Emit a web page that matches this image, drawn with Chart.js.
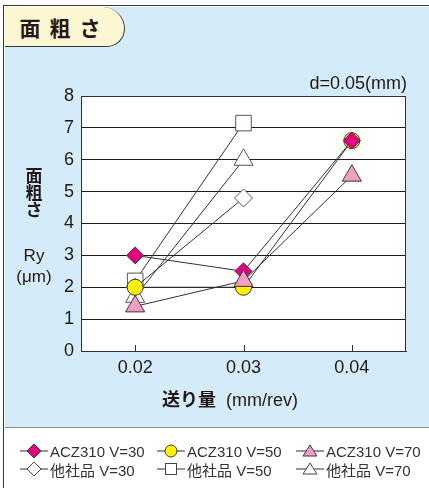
<!DOCTYPE html>
<html lang="ja">

<head>
    <meta charset="UTF-8">
    <title>面粗さ</title>
    <style>
        html,
        body {
            margin: 0;
            padding: 0;
        }

        body {
            width: 429px;
            height: 488px;
            position: relative;
            overflow: hidden;
            background: #fff;
            font-family: "Liberation Sans", "Noto Sans CJK JP", sans-serif;
            color: #231815;
        }

        #frame {
            position: absolute;
            left: 3px;
            top: 5px;
            width: 440px;
            height: 500px;
            border-left: 1.5px solid #3a3a3a;
            border-top: 1.5px solid #3a3a3a;
        }

        #panel {
            position: absolute;
            left: 4.5px;
            top: 6.5px;
            width: 430px;
            height: 420px;
            background: #d4ecf9;
            border-bottom: 1.5px solid #8a8a8a;
        }

        #tab {
            position: absolute;
            left: 4.5px;
            top: 6.5px;
            width: 120px;
            height: 40px;
            background: #fdf6d3;
            border-right: 1.5px solid #3a3a3a;
            border-bottom: 1.5px solid #3a3a3a;
            border-radius: 0 24px 20px 0;
            font-family: "Noto Sans CJK JP", sans-serif;
            font-weight: bold;
            font-size: 21px;
            line-height: 41px;
            letter-spacing: 9px;
            padding-left: 15px;
            box-sizing: border-box;
        }

        #chart-box {
            position: absolute;
            left: 0;
            top: 0;
            width: 429px;
            height: 427px;
        }

        .txt {
            position: absolute;
            white-space: nowrap;
        }

        .jp {
            font-family: "Noto Sans CJK JP", sans-serif;
            font-weight: bold;
        }

        #legend {
            position: absolute;
            left: 0;
            top: 442px;
            width: 429px;
        }

        .item {
            position: absolute;
            display: flex;
            align-items: center;
            font-size: 15px;
            height: 18px;
            color: #333;
        }

        .item svg {
            margin-right: 2px;
        }
    </style>
    <script src="https://cdn.jsdelivr.net/npm/chart.js"></script>
</head>

<body>

    <div id="frame"></div>
    <div id="panel"></div>
    <div id="tab">面粗さ</div>

    <div id="chart-box"><canvas id="roughChart"></canvas></div>

    <div class="txt" style="right:22px; top:73px; font-size:18px;">d=0.05(mm)</div>

    <div class="txt jp" style="left:23px; top:166px; width:22px; font-size:17px; line-height:17px; text-align:center;">面<br>粗<br>さ</div>
    <div class="txt" style="left:13px; top:246px; width:42px; font-size:17px; text-align:center;">Ry</div>
    <div class="txt" style="left:13px; top:267px; width:42px; font-size:17px; text-align:center;">(μm)</div>

    <div class="txt" style="left:162px; top:385px; font-size:18px;"><span class="jp" style="font-size:18px;">送り量</span>&nbsp;&nbsp;(mm/rev)</div>

    <div id="legend"></div>

    <script>
        // feed (mm/rev)
        const feedLabels = ['0.02', '0.03', '0.04'];
        const yTicks = [0, 1, 2, 3, 4, 5, 6, 7, 8];

        // Ry (um)
        const acz30 = [3.0, 2.5, 6.6];
        const acz50 = [2.0, 2.0, 6.6];
        const acz70 = [1.4, 2.2, 5.5];
        const other30 = [2.0, 4.8, null];
        const other50 = [2.2, 7.15, null];
        const other70 = [1.7, 6.0, null];

        const seriesNames = ['ACZ310 V=30', 'ACZ310 V=50', 'ACZ310 V=70', '他社品 V=30', '他社品 V=50', '他社品 V=70'];

        const MAGENTA = '#e4007f';
        const YELLOW = '#fff100';
        const PINK = '#f19ec2';
        const EDGE = '#3a3a3a';

        const series = [
            { name: seriesNames[0], data: acz30, style: 'rectRot', fill: MAGENTA, r: 8.5 },
            { name: seriesNames[1], data: acz50, style: 'circle', fill: YELLOW, r: 8 },
            { name: seriesNames[2], data: acz70, style: 'triangle', fill: PINK, r: 11 },
            { name: seriesNames[3], data: other30, style: 'rectRot', fill: '#fff', r: 9 },
            { name: seriesNames[4], data: other50, style: 'rect', fill: '#fff', r: 11 },
            { name: seriesNames[5], data: other70, style: 'triangle', fill: '#fff', r: 11 }
        ];

        // first dataset is painted on top, so list them top-most first
        const drawOrder = [2, 0, 1, 3, 4, 5];

        const datasets = drawOrder.map(i => {
            const s = series[i];
            return {
                label: s.name,
                data: s.data,
                borderColor: '#333',
                borderWidth: 1,
                fill: false,
                tension: 0,
                pointStyle: s.style,
                pointRadius: s.r,
                pointBackgroundColor: s.fill,
                pointBorderColor: s.fill === '#fff' ? '#555' : EDGE,
                pointBorderWidth: 1
            };
        });

        const plotFrame = {
            id: 'plotFrame',
            beforeDraw(chart) {
                const { ctx, chartArea: a } = chart;
                ctx.save();
                ctx.fillStyle = '#fff';
                ctx.fillRect(a.left, a.top, a.right - a.left, a.bottom - a.top);
                ctx.restore();
            },
            beforeDatasetsDraw(chart) {
                const { ctx, chartArea: a, scales } = chart;
                ctx.save();
                ctx.strokeStyle = '#333';
                ctx.lineWidth = 1;
                ctx.beginPath();
                ctx.moveTo(a.left, a.top + 0.5);
                ctx.lineTo(a.right - 0.5, a.top + 0.5);
                ctx.lineTo(a.right - 0.5, a.bottom);
                // small inner ticks on the feed axis
                feedLabels.forEach((l, i) => {
                    const x = Math.round(scales.x.getPixelForTick(i)) + 0.5;
                    ctx.moveTo(x, a.bottom);
                    ctx.lineTo(x, a.bottom - 6);
                });
                ctx.stroke();
                ctx.restore();
            }
        };

        const ctx = document.getElementById('roughChart').getContext('2d');
        const roughChart = new Chart(ctx, {
            type: 'line',
            data: {
                labels: feedLabels,
                datasets: datasets
            },
            options: {
                responsive: true,
                maintainAspectRatio: false,
                animation: false,
                layout: {
                    padding: { top: 96, right: 23, bottom: 46, left: 0 }
                },
                plugins: {
                    legend: { display: false },
                    tooltip: { enabled: false }
                },
                scales: {
                    x: {
                        type: 'category',
                        offset: true,
                        grid: { display: false, drawTicks: false },
                        border: { display: true, color: '#333', width: 1 },
                        ticks: {
                            color: '#231815',
                            padding: 6,
                            font: { family: '"Liberation Sans", sans-serif', size: 18 }
                        },
                        afterFit: s => { s.height = 30; }
                    },
                    y: {
                        min: 0,
                        max: 8,
                        afterBuildTicks: s => { s.ticks = yTicks.map(v => ({ value: v })); },
                        grid: { color: '#231815', lineWidth: 1, drawTicks: false },
                        border: { display: true, color: '#333', width: 1 },
                        ticks: {
                            color: '#231815',
                            padding: 7,
                            font: { family: '"Liberation Sans", sans-serif', size: 18 }
                        },
                        afterFit: s => { s.width = 81; }
                    }
                }
            },
            plugins: [plotFrame]
        });

        // legend: line with marker, then name
        function markerSvg(s) {
            const cx = 14, cy = 9;
            let shape = '';
            if (s.style === 'rectRot') {
                shape = `<polygon points="${cx - 7},${cy} ${cx},${cy - 7} ${cx + 7},${cy} ${cx},${cy + 7}"`;
            } else if (s.style === 'circle') {
                shape = `<circle cx="${cx}" cy="${cy}" r="6"`;
            } else if (s.style === 'rect') {
                shape = `<rect x="${cx - 5.5}" y="${cy - 5.5}" width="11" height="11"`;
            } else {
                shape = `<polygon points="${cx},${cy - 6} ${cx + 7},${cy + 5} ${cx - 7},${cy + 5}"`;
            }
            return `<svg width="28" height="18"><line x1="0" y1="${cy}" x2="28" y2="${cy}" stroke="#333" stroke-width="1"/>` +
                `${shape} fill="${s.fill}" stroke="${s.fill === '#fff' ? '#444' : EDGE}" stroke-width="1"/></svg>`;
        }

        const colLeft = [20, 157, 296];
        const legend = document.getElementById('legend');
        series.forEach((s, i) => {
            const el = document.createElement('div');
            el.className = 'item';
            el.style.left = colLeft[i % 3] + 'px';
            el.style.top = (i < 3 ? 0 : 18) + 'px';
            el.innerHTML = markerSvg(s) + `<span>${s.name}</span>`;
            legend.appendChild(el);
        });
    </script>
</body>

</html>
